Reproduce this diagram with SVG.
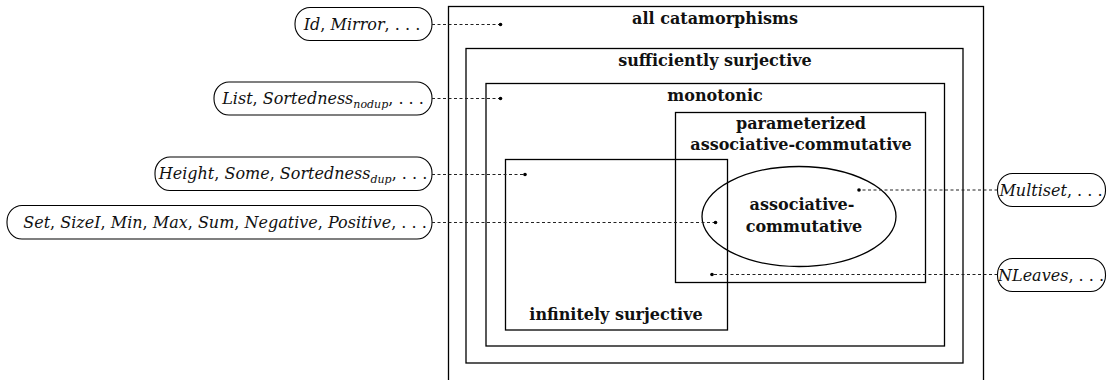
<svg xmlns="http://www.w3.org/2000/svg" width="1112" height="380" viewBox="0 0 1112 380">
<defs>
<style>
.set{fill:none;stroke:#000;stroke-width:1.3}
.lbl{font-family:"DejaVu Serif",serif;font-weight:bold;font-size:16px;fill:#111;text-anchor:middle}
.pill{fill:#fff;stroke:#000;stroke-width:1.1}
.pt{font-family:"DejaVu Serif",serif;font-style:italic;font-size:16px;fill:#111;text-anchor:middle}
.sub{font-size:11px}
.con{fill:none;stroke:#222;stroke-width:1;stroke-dasharray:3 2.5}
.dot{fill:#000}
</style>
</defs>
<rect width="1112" height="380" fill="#fff"/>
<g id="all-catamorphisms">
<rect class="set" x="448.5" y="6.5" width="535" height="380"/>
<text class="lbl" x="715" y="24">all catamorphisms</text>
</g>
<g id="sufficiently-surjective">
<rect class="set" x="466" y="48.5" width="497" height="314.5"/>
<text class="lbl" x="715" y="66">sufficiently surjective</text>
</g>
<g id="monotonic">
<rect class="set" x="486" y="83.5" width="458.5" height="262.5"/>
<text class="lbl" x="715" y="101">monotonic</text>
</g>
<g id="parameterized-ac">
<rect class="set" x="675.5" y="112.5" width="250" height="170"/>
<text class="lbl" x="801" y="129">parameterized</text>
<text class="lbl" x="801" y="150">associative-commutative</text>
</g>
<g id="infinitely-surjective">
<rect class="set" x="505.5" y="159.5" width="222" height="170.5"/>
<text class="lbl" x="616" y="320">infinitely surjective</text>
</g>
<g id="associative-commutative">
<ellipse class="set" cx="799" cy="216.5" rx="97" ry="50"/>
<text class="lbl" x="802" y="210">associative-</text>
<text class="lbl" x="804" y="232">commutative</text>
</g>
<g id="ex-id">
<rect class="pill" x="295" y="7.5" width="137" height="33" rx="15" ry="16"/>
<text class="pt" x="362" y="30">Id<tspan font-style="normal">,</tspan> Mirror<tspan font-style="normal">, . . .</tspan></text>
</g>
<g id="ex-list">
<rect class="pill" x="214" y="82" width="218" height="33" rx="15" ry="16"/>
<text class="pt" x="323" y="104">List<tspan font-style="normal">,</tspan> Sortedness<tspan class="sub" dy="4">nodup</tspan><tspan dy="-4" font-style="normal">, . . .</tspan></text>
</g>
<g id="ex-height">
<rect class="pill" x="155" y="157" width="277" height="33.5" rx="15" ry="16"/>
<text class="pt" x="293" y="179">Height<tspan font-style="normal">,</tspan> Some<tspan font-style="normal">,</tspan> Sortedness<tspan class="sub" dy="4">dup</tspan><tspan dy="-4" font-style="normal">, . . .</tspan></text>
</g>
<g id="ex-set">
<rect class="pill" x="7" y="205.5" width="425" height="33.5" rx="15" ry="16"/>
<text class="pt" x="225" y="228">Set<tspan font-style="normal">,</tspan> SizeI<tspan font-style="normal">,</tspan> Min<tspan font-style="normal">,</tspan> Max<tspan font-style="normal">,</tspan> Sum<tspan font-style="normal">,</tspan> Negative<tspan font-style="normal">,</tspan> Positive<tspan font-style="normal">, . . .</tspan></text>
</g>
<g id="ex-multiset">
<rect class="pill" x="997.5" y="173.5" width="108" height="33" rx="15" ry="16"/>
<text class="pt" x="1051" y="196">Multiset<tspan font-style="normal">, . . .</tspan></text>
</g>
<g id="ex-nleaves">
<rect class="pill" x="997.5" y="258.5" width="108" height="33" rx="15" ry="16"/>
<text class="pt" x="1051" y="281">NLeaves<tspan font-style="normal">, . . .</tspan></text>
</g>
<g id="connectors">
<path class="con" d="M432 24.5H500.5"/>
<circle class="dot" cx="500.5" cy="24.5" r="1.8"/>
<path class="con" d="M432 98.5H500.5"/>
<circle class="dot" cx="500.5" cy="98.5" r="1.8"/>
<path class="con" d="M432 174.5H525"/>
<circle class="dot" cx="525" cy="174.5" r="1.8"/>
<path class="con" d="M432 222.5H715.5"/>
<circle class="dot" cx="715.5" cy="222.5" r="1.8"/>
<path class="con" d="M997.5 190H859"/>
<circle class="dot" cx="859" cy="190" r="1.8"/>
<path class="con" d="M997.5 274.5H712"/>
<circle class="dot" cx="712" cy="274.5" r="1.8"/>
</g>
</svg>
